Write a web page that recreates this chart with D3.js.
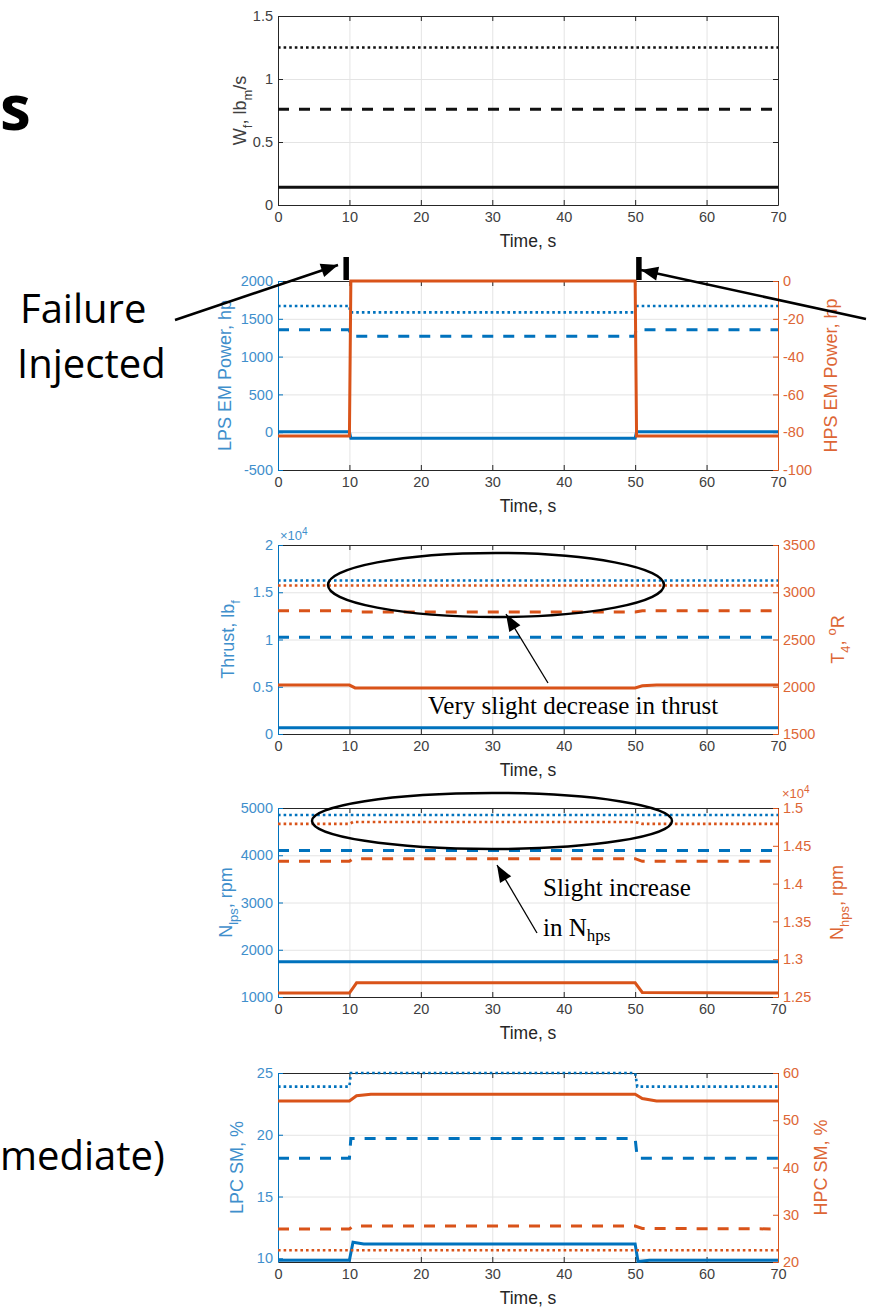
<!DOCTYPE html>
<html>
<head>
<meta charset="utf-8">
<script src="https://cdn.jsdelivr.net/npm/d3@7"></script>
<style>
body { margin: 0; background: #fff; }
svg { display: block; }
</style>
</head>
<body>
<svg width="871" height="1312"></svg>
<script>
// time axis shared by all five panels
const timeTicks = [0, 10, 20, 30, 40, 50, 60, 70];

// panel 1 - fuel flow, lbm/s
const wfTicks = [0, 0.5, 1, 1.5];
const wfDotted = [[0, 1.25], [70, 1.25]];
const wfDashed = [[0, 0.76], [70, 0.76]];
const wfSolid = [[0, 0.14], [70, 0.14]];

// panel 2 - EM power, hp
const lpsPowerTicks = [-500, 0, 500, 1000, 1500, 2000];
const hpsPowerTicks = [-100, -80, -60, -40, -20, 0];
const lpsPowerDotted = [[0, 1670], [10, 1670], [10.1, 1585], [50, 1585], [50.1, 1670], [70, 1670]];
const lpsPowerDashed = [[0, 1355], [10, 1355], [10.1, 1270], [50, 1270], [50.1, 1355], [70, 1355]];
const lpsPowerSolid = [[0, 5], [10, 5], [10.2, -80], [50, -80], [50.2, 5], [70, 5]];
const hpsPowerSolid = [[0, -82], [10, -82], [10.2, 0], [50, 0], [50.2, -82], [70, -82]];

// panel 3 - thrust (x10^4 lbf) and T4 (R)
const thrustTicks = [0, 0.5, 1, 1.5, 2];
const t4Ticks = [1500, 2000, 2500, 3000, 3500];
const thrustDotted = [[0, 1.625], [70, 1.625]];
const thrustDashed = [[0, 1.025], [70, 1.025]];
const thrustSolid = [[0, 0.067], [70, 0.067]];
const t4Dotted = [[0, 3071], [70, 3071]];
const t4Dashed = [[0, 2805], [10, 2805], [10.6, 2790], [50, 2790], [51, 2805], [70, 2805]];
const t4Solid = [[0, 2018], [10, 2018], [10.8, 1988], [50, 1988], [51, 2010], [53, 2018], [70, 2018]];

// panel 4 - shaft speeds, rpm (hps in x10^4)
const nlpsTicks = [1000, 2000, 3000, 4000, 5000];
const nhpsTicks = [1.25, 1.3, 1.35, 1.4, 1.45, 1.5];
const nlpsDotted = [[0, 4853], [70, 4853]];
const nlpsDashed = [[0, 4100], [70, 4100]];
const nlpsSolid = [[0, 1745], [70, 1745]];
const nhpsDotted = [[0, 1.479], [10, 1.479], [10.5, 1.4815], [50, 1.4815], [51, 1.479], [70, 1.479]];
const nhpsDashed = [[0, 1.4295], [10, 1.4295], [10.5, 1.433], [50, 1.433], [51, 1.4295], [70, 1.4295]];
const nhpsSolid = [[0, 1.2552], [10, 1.2552], [11, 1.2688], [50, 1.2688], [51, 1.256], [70, 1.2552]];

// panel 5 - surge margins, %
const lpcTicks = [10, 15, 20, 25];
const hpcTicks = [20, 30, 40, 50, 60];
const lpcDotted = [[0, 23.9], [10, 23.9], [10.2, 25], [50, 25], [50.3, 23.9], [70, 23.9]];
const lpcDashed = [[0, 18.1], [10, 18.1], [10.2, 19.7], [50, 19.7], [50.3, 18.1], [70, 18.1]];
const lpcSolid = [[0, 9.85], [10, 9.85], [10.5, 11.3], [12, 11.15], [50, 11.15], [50.4, 9.75], [52, 9.85], [70, 9.85]];
const hpcSolid = [[0, 54.1], [10, 54.1], [11, 55.2], [13, 55.5], [50, 55.5], [51, 54.6], [53, 54.1], [70, 54.1]];
const hpcDashed = [[0, 27.0], [10, 27.0], [10.5, 27.6], [50, 27.6], [51, 27.1], [70, 27.0]];
const hpcDotted = [[0, 22.5], [70, 22.5]];

const BLUE = "#0072BD", ORANGE = "#D95319";
const BLUE_TXT = "#3f8fcc", ORANGE_TXT = "#dd6636", DARK = "#262626", TICK_TXT = "#404040";
const X0 = 278, X1 = 778, H = 189;
const FONT = "'Liberation Sans', Arial, sans-serif";

const svg = d3.select("svg");
const x = d3.scaleLinear().domain([0, 70]).range([X0, X1]);

const lineStyle = {
	solid: { w: 3, dash: null },
	dashed: { w: 3, dash: "11,10" },
	dotted: { w: 2.6, dash: "2.6,3" }
};

const panels = [
	{
		top: 16,
		left: { domain: [0, 1.5], ticks: wfTicks, line: DARK, text: TICK_TXT, label: [["W"], ["f", "sub"], [", lb"], ["m", "sub"], ["/s"]], lx: 240 },
		right: null,
		series: [
			{ data: wfDotted, side: "left", color: "#111", style: "dotted" },
			{ data: wfDashed, side: "left", color: "#111", style: "dashed" },
			{ data: wfSolid, side: "left", color: "#111", style: "solid" }
		]
	},
	{
		top: 281,
		left: { domain: [-500, 2000], ticks: lpsPowerTicks, line: BLUE, text: BLUE_TXT, label: [["LPS EM Power, hp"]], lx: 225 },
		right: { domain: [-100, 0], ticks: hpsPowerTicks, line: ORANGE, text: ORANGE_TXT, label: [["HPS EM Power, hp"]], lx: 831 },
		series: [
			{ data: lpsPowerDotted, side: "left", color: BLUE, style: "dotted" },
			{ data: lpsPowerDashed, side: "left", color: BLUE, style: "dashed" },
			{ data: lpsPowerSolid, side: "left", color: BLUE, style: "solid" },
			{ data: hpsPowerSolid, side: "right", color: ORANGE, style: "solid" }
		]
	},
	{
		top: 545,
		left: { domain: [0, 2], ticks: thrustTicks, line: BLUE, text: BLUE_TXT, label: [["Thrust, lb"], ["f", "sub"]], lx: 228, exp: true },
		right: { domain: [1500, 3500], ticks: t4Ticks, line: ORANGE, text: ORANGE_TXT, label: [["T"], ["4", "sub"], [", "], ["o", "sup"], ["R"]], lx: 838 },
		series: [
			{ data: thrustDotted, side: "left", color: BLUE, style: "dotted" },
			{ data: thrustDashed, side: "left", color: BLUE, style: "dashed" },
			{ data: thrustSolid, side: "left", color: BLUE, style: "solid" },
			{ data: t4Dotted, side: "right", color: ORANGE, style: "dotted" },
			{ data: t4Dashed, side: "right", color: ORANGE, style: "dashed" },
			{ data: t4Solid, side: "right", color: ORANGE, style: "solid" }
		]
	},
	{
		top: 808,
		left: { domain: [1000, 5000], ticks: nlpsTicks, line: BLUE, text: BLUE_TXT, label: [["N"], ["lps", "sub"], [", rpm"]], lx: 226 },
		right: { domain: [1.25, 1.5], ticks: nhpsTicks, line: ORANGE, text: ORANGE_TXT, label: [["N"], ["hps", "sub"], [", rpm"]], lx: 837, exp: true },
		series: [
			{ data: nlpsDotted, side: "left", color: BLUE, style: "dotted" },
			{ data: nlpsDashed, side: "left", color: BLUE, style: "dashed" },
			{ data: nlpsSolid, side: "left", color: BLUE, style: "solid" },
			{ data: nhpsDotted, side: "right", color: ORANGE, style: "dotted" },
			{ data: nhpsDashed, side: "right", color: ORANGE, style: "dashed" },
			{ data: nhpsSolid, side: "right", color: ORANGE, style: "solid" }
		]
	},
	{
		top: 1073,
		left: { domain: [9.7, 25], ticks: lpcTicks, line: BLUE, text: BLUE_TXT, label: [["LPC SM, %"]], lx: 237 },
		right: { domain: [20, 60], ticks: hpcTicks, line: ORANGE, text: ORANGE_TXT, label: [["HPC SM, %"]], lx: 821 },
		series: [
			{ data: lpcDotted, side: "left", color: BLUE, style: "dotted" },
			{ data: lpcDashed, side: "left", color: BLUE, style: "dashed" },
			{ data: lpcSolid, side: "left", color: BLUE, style: "solid" },
			{ data: hpcSolid, side: "right", color: ORANGE, style: "solid" },
			{ data: hpcDashed, side: "right", color: ORANGE, style: "dashed" },
			{ data: hpcDotted, side: "right", color: ORANGE, style: "dotted" }
		]
	}
];

// rotated label with sub/superscripts
function rotLabel(g, parts, cx, cy, color, size) {
	const t = g.append("text")
		.attr("transform", `translate(${cx},${cy}) rotate(-90)`)
		.attr("text-anchor", "middle")
		.attr("dy", "0.35em")
		.attr("font-family", FONT)
		.attr("font-size", size)
		.attr("fill", color);
	let shift = 0;
	parts.forEach(function(p) {
		const target = p[1] == "sub" ? size * 0.3 : p[1] == "sup" ? -size * 0.45 : 0;
		const ts = t.append("tspan").text(p[0]);
		if (target != shift) ts.attr("dy", target - shift);
		if (p[1]) ts.attr("font-size", size * 0.72);
		shift = target;
	});
}

function styleAxis(sel, lineColor, textColor) {
	sel.select(".domain").attr("stroke", lineColor).attr("stroke-width", 1);
	sel.selectAll(".tick line").attr("stroke", lineColor);
	sel.selectAll(".tick text").attr("fill", textColor).attr("font-size", 14.5).attr("font-family", FONT);
}

panels.forEach(function(p) {
	const y0 = p.top, y1 = p.top + H;
	const g = svg.append("g");
	const yl = d3.scaleLinear().domain(p.left.domain).range([y1, y0]);
	const yr = p.right ? d3.scaleLinear().domain(p.right.domain).range([y1, y0]) : yl;

	// grid
	g.append("g")
		.attr("transform", `translate(0,${y1})`)
		.call(d3.axisBottom(x).tickValues(timeTicks).tickSize(-H).tickFormat(""))
		.call(s => s.select(".domain").remove())
		.selectAll("line").attr("stroke", "#e4e4e4");
	g.append("g")
		.attr("transform", `translate(${X0},0)`)
		.call(d3.axisLeft(yl).tickValues(p.left.ticks).tickSize(-(X1 - X0)).tickFormat(""))
		.call(s => s.select(".domain").remove())
		.selectAll("line").attr("stroke", "#e4e4e4");

	// box: bottom, top
	g.append("g")
		.attr("transform", `translate(0,${y1})`)
		.call(d3.axisBottom(x).tickValues(timeTicks).tickSize(-5).tickSizeOuter(0).tickPadding(7))
		.call(s => styleAxis(s, DARK, TICK_TXT));
	g.append("g")
		.attr("transform", `translate(0,${y0})`)
		.call(d3.axisTop(x).tickValues(timeTicks).tickSize(-5).tickSizeOuter(0).tickFormat(""))
		.call(s => styleAxis(s, DARK, TICK_TXT));

	// left axis
	g.append("g")
		.attr("transform", `translate(${X0},0)`)
		.call(d3.axisLeft(yl).tickValues(p.left.ticks).tickSize(-5).tickSizeOuter(0).tickPadding(5).tickFormat(d => d))
		.call(s => styleAxis(s, p.left.line, p.left.text));

	// right axis
	if (p.right) {
		g.append("g")
			.attr("transform", `translate(${X1},0)`)
			.call(d3.axisRight(yr).tickValues(p.right.ticks).tickSize(-5).tickSizeOuter(0).tickPadding(5).tickFormat(d => d))
			.call(s => styleAxis(s, p.right.line, p.right.text));
		rotLabel(g, p.right.label, p.right.lx, y0 + H / 2, p.right.text, 18);
	} else {
		g.append("g")
			.attr("transform", `translate(${X1},0)`)
			.call(d3.axisRight(yl).tickValues(p.left.ticks).tickSize(-5).tickSizeOuter(0).tickFormat(""))
			.call(s => styleAxis(s, DARK, TICK_TXT));
	}
	rotLabel(g, p.left.label, p.left.lx, y0 + H / 2, p.left.text, 18);

	// exponent markers
	if (p.left.exp) {
		const t = g.append("text").attr("x", X0 + 2).attr("y", y0 - 5)
			.attr("font-family", FONT).attr("font-size", 13).attr("fill", p.left.text);
		t.append("tspan").text("\u00d710");
		t.append("tspan").text("4").attr("dy", -5).attr("font-size", 10);
	}
	if (p.right && p.right.exp) {
		const t = g.append("text").attr("x", X1 + 4).attr("y", y0 - 10)
			.attr("font-family", FONT).attr("font-size", 13).attr("fill", p.right.text);
		t.append("tspan").text("\u00d710");
		t.append("tspan").text("4").attr("dy", -5).attr("font-size", 10);
	}

	g.append("text")
		.attr("x", (X0 + X1) / 2).attr("y", y1 + 42)
		.attr("text-anchor", "middle")
		.attr("font-family", FONT).attr("font-size", 17.5).attr("fill", DARK)
		.text("Time, s");

	// series
	p.series.forEach(function(s) {
		const ys = s.side == "left" ? yl : yr;
		const line = d3.line().x(d => x(d[0])).y(d => ys(d[1]));
		const st = lineStyle[s.style];
		g.append("path")
			.datum(s.data)
			.attr("d", line)
			.attr("fill", "none")
			.attr("stroke", s.color)
			.attr("stroke-width", st.w)
			.attr("stroke-dasharray", st.dash);
	});
});

// arrows
function arrow(x1, y1, x2, y2, w, headL, headW) {
	svg.append("line")
		.attr("x1", x1).attr("y1", y1).attr("x2", x2).attr("y2", y2)
		.attr("stroke", "#000").attr("stroke-width", w);
	const len = Math.hypot(x2 - x1, y2 - y1);
	const ux = (x2 - x1) / len, uy = (y2 - y1) / len;
	const bx = x2 - ux * headL, by = y2 - uy * headL;
	svg.append("polygon")
		.attr("points", [[x2, y2], [bx - uy * headW / 2, by + ux * headW / 2], [bx + uy * headW / 2, by - ux * headW / 2]].join(" "))
		.attr("fill", "#000");
}

// failure markers above panel 2
svg.append("rect").attr("x", x(10) - 6).attr("y", 257).attr("width", 5.5).attr("height", 23).attr("fill", "#000");
svg.append("rect").attr("x", x(50) + 1).attr("y", 257).attr("width", 5.5).attr("height", 23).attr("fill", "#000");
arrow(175, 320, 338, 265, 2.5, 17, 14);
arrow(866, 319, 641, 270, 2.5, 17, 14);

// ellipses and notes
svg.append("ellipse").attr("cx", 496).attr("cy", 585).attr("rx", 168).attr("ry", 32)
	.attr("fill", "none").attr("stroke", "#000").attr("stroke-width", 2.5);
svg.append("ellipse").attr("cx", 492).attr("cy", 821).attr("rx", 180).attr("ry", 28)
	.attr("fill", "none").attr("stroke", "#000").attr("stroke-width", 2.5);
arrow(548, 683, 506, 614, 1.3, 17, 13);
arrow(537, 933, 497, 865, 1.3, 17, 13);

const SERIF = "'Liberation Serif', 'Times New Roman', serif";
svg.append("text").attr("x", 428).attr("y", 714).attr("font-family", SERIF).attr("font-size", 25)
	.attr("fill", "#000").text("Very slight decrease in thrust");
svg.append("text").attr("x", 543).attr("y", 896).attr("font-family", SERIF).attr("font-size", 25)
	.attr("fill", "#000").text("Slight increase");
const inN = svg.append("text").attr("x", 543).attr("y", 936).attr("font-family", SERIF).attr("font-size", 25).attr("fill", "#000");
inN.append("tspan").text("in N");
inN.append("tspan").text("hps").attr("font-size", 17).attr("dy", 5);

// slide text around the figure
const SANS = "'Open Sans', Lato, sans-serif";
svg.append("text").attr("x", 20).attr("y", 323).attr("font-family", SANS).attr("font-size", 40).attr("fill", "#000").text("Failure");
svg.append("text").attr("x", 17).attr("y", 378).attr("font-family", SANS).attr("font-size", 40).attr("fill", "#000").text("Injected");
svg.append("text").attr("x", 0).attr("y", 130).attr("font-family", SANS).attr("font-weight", "bold").attr("font-size", 62).attr("fill", "#000").text("s");
svg.append("text").attr("x", 0).attr("y", 1170).attr("font-family", SANS).attr("font-size", 40).attr("fill", "#000").text("mediate)");
</script>
</body>
</html>
